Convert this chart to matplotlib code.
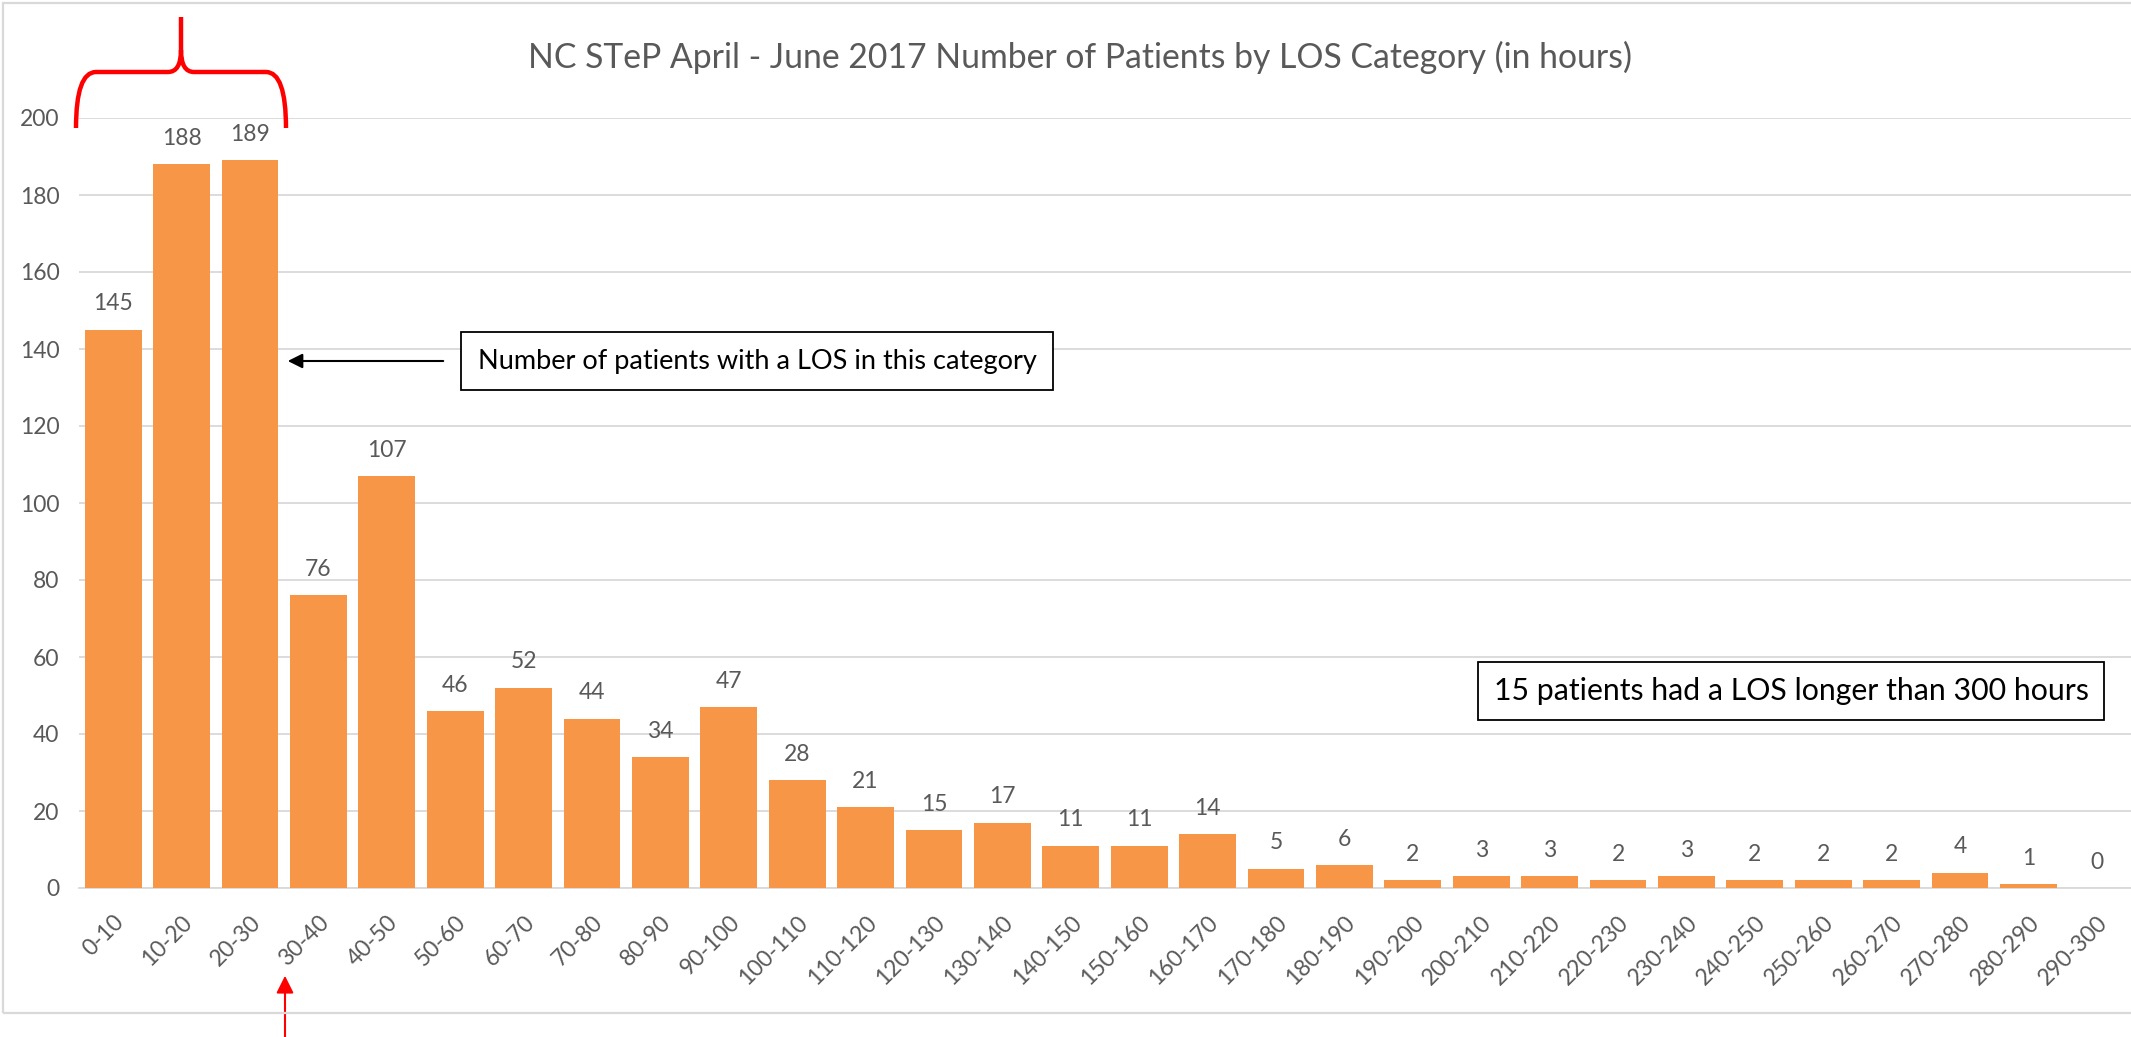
import numpy as np
import matplotlib.pyplot as plt
from matplotlib.path import Path
from matplotlib.patches import PathPatch, Rectangle

# chart data
categories = ['0-10', '10-20', '20-30', '30-40', '40-50', '50-60', '60-70', '70-80',
              '80-90', '90-100', '100-110', '110-120', '120-130', '130-140', '140-150',
              '150-160', '160-170', '170-180', '180-190', '190-200', '200-210', '210-220',
              '220-230', '230-240', '240-250', '250-260', '260-270', '270-280', '280-290',
              '290-300']
patients = [145, 188, 189, 76, 107, 46, 52, 44, 34, 47, 28, 21, 15, 17, 11,
            11, 14, 5, 6, 2, 3, 3, 2, 3, 2, 2, 2, 4, 1, 0]
yticks = [0, 20, 40, 60, 80, 100, 120, 140, 160, 180, 200]

title = 'NC STeP April - June 2017 Number of Patients by LOS Category (in hours)'
note_bar = 'Number of patients with a LOS in this category'
note_long = '15 patients had a LOS longer than 300 hours'

W, H = 2131, 1037
BAR = '#F79646'
GRID = '#D9D9D9'
TXT = '#595959'

plt.rcParams['font.family'] = ['Lato', 'DejaVu Sans']

fig = plt.figure(figsize=(W / 100, H / 100), dpi=100)

# outer chart frame
fig.patches.append(Rectangle((3 / W, (H - 1013) / H), 1.0, 1010 / H,
                             transform=fig.transFigure, fill=False,
                             edgecolor=GRID, lw=1.6))

ax = fig.add_axes([79 / W, (H - 888) / H, (W - 79) / W, 770 / H])
x = np.arange(len(categories))
bars = ax.bar(x, patients, width=0.83, color=BAR, zorder=3)
for xi, v in zip(x, patients):
    ax.text(xi, v + 4, str(v), ha='center', va='bottom', fontsize=16.5,
            color=TXT, clip_on=False)

ax.set_xlim(-0.5, len(categories) - 0.5)
ax.set_ylim(0, 200)
ax.set_yticks(yticks)
ax.set_yticklabels([str(t) for t in yticks], fontsize=16.5, color=TXT)
ax.set_xticks(x)
ax.set_xticklabels(categories, rotation=45, ha='right', rotation_mode='anchor',
                   fontsize=16.5, color=TXT)
ax.tick_params(axis='both', length=0)
ax.tick_params(axis='y', pad=14)
ax.tick_params(axis='x', pad=17)
ax.grid(axis='y', color=GRID, lw=1.3, zorder=0)
for s in ['top', 'right', 'left']:
    ax.spines[s].set_visible(False)
ax.spines['bottom'].set_color(GRID)
ax.spines['bottom'].set_linewidth(1.3)

fig.text(0.507, (H - 57) / H, title, ha='center', va='center',
         fontsize=24.3, color=TXT)

# text boxes
fig.text(757 / W, (H - 361) / H, note_bar, ha='center', va='center', fontsize=19.5,
         color='black',
         bbox=dict(boxstyle='square,pad=0.62', fc='white', ec='black', lw=1.3))
fig.text(1791 / W, (H - 691) / H, note_long, ha='center', va='center', fontsize=21.8,
         color='black',
         bbox=dict(boxstyle='square,pad=0.5', fc='white', ec='black', lw=1.3))

# black arrow pointing to bar
ax.annotate('', xy=(285, H - 361), xytext=(446, H - 361),
            xycoords='figure pixels', textcoords='figure pixels',
            arrowprops=dict(arrowstyle='-|>', color='black', lw=1.5,
                            mutation_scale=22))

# red arrow from below
ax.annotate('', xy=(285, H - 973), xytext=(285, -5),
            xycoords='figure pixels', textcoords='figure pixels',
            arrowprops=dict(arrowstyle='-|>', color='red', lw=1.5,
                            mutation_scale=26), annotation_clip=False)

# red brace over first three bars
def fp(px, py):
    return (px, H - py)

verts = [fp(76, 128), fp(76, 72), fp(96, 72), fp(168, 72), fp(181, 72), fp(181, 50),
         fp(181, 17), fp(181, 50), fp(181, 72), fp(194, 72), fp(266, 72),
         fp(286, 72), fp(286, 128)]
codes = [Path.MOVETO, Path.CURVE3, Path.CURVE3, Path.LINETO, Path.CURVE3, Path.CURVE3,
         Path.LINETO, Path.MOVETO, Path.CURVE3, Path.CURVE3, Path.LINETO,
         Path.CURVE3, Path.CURVE3]
brace = PathPatch(Path(verts, codes), fill=False, edgecolor='red', lw=3.2,
                  transform=None, capstyle='butt')
fig.patches.append(brace)

fig.savefig('out.png', dpi=100)
